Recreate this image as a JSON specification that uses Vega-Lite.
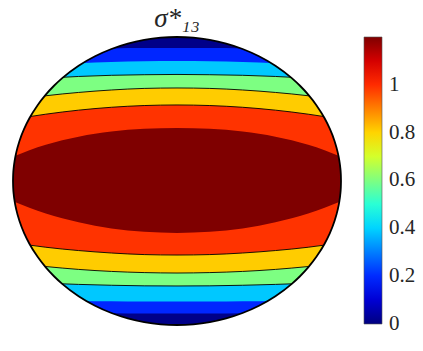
{
"$schema": "https://vega.github.io/schema/vega-lite/v6.json",
"width": 328, "height": 288,
"autosize": {"type": "none"},
"padding": {"left": 13, "top": 37, "right": 82, "bottom": 26},
"background": "white",
"title": {"text": "σ*₁₃", "font": "Liberation Serif", "fontSize": 27, "fontStyle": "italic", "fontWeight": "normal", "color": "#262626", "anchor": "middle", "baseline": "alphabetic", "offset": 9, "dy": 30},
"config": {"view": {"stroke": null}, "legend": {"labelFont": "Liberation Serif", "labelFontSize": 21}},
"datasets": {
"bands": [
{"v":0.01,"x":-1,"top":1,"bot":-1},{"v":0.01,"x":1,"top":1,"bot":-1},
{"v":0.195,"x":-1,"top":0.904,"bot":-0.911},{"v":0.195,"x":-0.9,"top":0.908,"bot":-0.913},{"v":0.195,"x":-0.8,"top":0.911,"bot":-0.915},{"v":0.195,"x":-0.6,"top":0.917,"bot":-0.917},{"v":0.195,"x":-0.4,"top":0.921,"bot":-0.919},{"v":0.195,"x":-0.2,"top":0.923,"bot":-0.921},{"v":0.195,"x":0,"top":0.924,"bot":-0.921},{"v":0.195,"x":0.2,"top":0.923,"bot":-0.921},{"v":0.195,"x":0.4,"top":0.921,"bot":-0.919},{"v":0.195,"x":0.6,"top":0.917,"bot":-0.917},{"v":0.195,"x":0.8,"top":0.911,"bot":-0.915},{"v":0.195,"x":0.9,"top":0.908,"bot":-0.913},{"v":0.195,"x":1,"top":0.904,"bot":-0.911},
{"v":0.385,"x":-1,"top":0.788,"bot":-0.827},{"v":0.385,"x":-0.9,"top":0.797,"bot":-0.829},{"v":0.385,"x":-0.8,"top":0.804,"bot":-0.831},{"v":0.385,"x":-0.6,"top":0.817,"bot":-0.833},{"v":0.385,"x":-0.4,"top":0.826,"bot":-0.835},{"v":0.385,"x":-0.2,"top":0.831,"bot":-0.837},{"v":0.385,"x":0,"top":0.833,"bot":-0.837},{"v":0.385,"x":0.2,"top":0.831,"bot":-0.837},{"v":0.385,"x":0.4,"top":0.826,"bot":-0.835},{"v":0.385,"x":0.6,"top":0.817,"bot":-0.833},{"v":0.385,"x":0.8,"top":0.804,"bot":-0.831},{"v":0.385,"x":0.9,"top":0.797,"bot":-0.829},{"v":0.385,"x":1,"top":0.788,"bot":-0.827},
{"v":0.597,"x":-1,"top":0.700,"bot":-0.699},{"v":0.597,"x":-0.9,"top":0.708,"bot":-0.705},{"v":0.597,"x":-0.8,"top":0.714,"bot":-0.710},{"v":0.597,"x":-0.6,"top":0.726,"bot":-0.718},{"v":0.597,"x":-0.4,"top":0.734,"bot":-0.724},{"v":0.597,"x":-0.2,"top":0.738,"bot":-0.728},{"v":0.597,"x":0,"top":0.740,"bot":-0.729},{"v":0.597,"x":0.2,"top":0.738,"bot":-0.728},{"v":0.597,"x":0.4,"top":0.734,"bot":-0.724},{"v":0.597,"x":0.6,"top":0.726,"bot":-0.718},{"v":0.597,"x":0.8,"top":0.714,"bot":-0.710},{"v":0.597,"x":0.9,"top":0.708,"bot":-0.705},{"v":0.597,"x":1,"top":0.700,"bot":-0.699},
{"v":0.81,"x":-1,"top":0.561,"bot":-0.569},{"v":0.81,"x":-0.9,"top":0.577,"bot":-0.582},{"v":0.81,"x":-0.8,"top":0.592,"bot":-0.594},{"v":0.81,"x":-0.6,"top":0.615,"bot":-0.614},{"v":0.81,"x":-0.4,"top":0.632,"bot":-0.628},{"v":0.81,"x":-0.2,"top":0.643,"bot":-0.636},{"v":0.81,"x":0,"top":0.646,"bot":-0.639},{"v":0.81,"x":0.2,"top":0.643,"bot":-0.636},{"v":0.81,"x":0.4,"top":0.632,"bot":-0.628},{"v":0.81,"x":0.6,"top":0.615,"bot":-0.614},{"v":0.81,"x":0.8,"top":0.592,"bot":-0.594},{"v":0.81,"x":0.9,"top":0.577,"bot":-0.582},{"v":0.81,"x":1,"top":0.561,"bot":-0.569},
{"v":0.99,"x":-1,"top":0.428,"bot":-0.429},{"v":0.99,"x":-0.9,"top":0.447,"bot":-0.445},{"v":0.99,"x":-0.8,"top":0.464,"bot":-0.460},{"v":0.99,"x":-0.6,"top":0.492,"bot":-0.483},{"v":0.99,"x":-0.4,"top":0.512,"bot":-0.500},{"v":0.99,"x":-0.2,"top":0.524,"bot":-0.511},{"v":0.99,"x":0,"top":0.528,"bot":-0.514},{"v":0.99,"x":0.2,"top":0.524,"bot":-0.511},{"v":0.99,"x":0.4,"top":0.512,"bot":-0.500},{"v":0.99,"x":0.6,"top":0.492,"bot":-0.483},{"v":0.99,"x":0.8,"top":0.464,"bot":-0.460},{"v":0.99,"x":0.9,"top":0.447,"bot":-0.445},{"v":0.99,"x":1,"top":0.428,"bot":-0.429},
{"v":1.2,"x":-1,"top":0.168,"bot":-0.141},{"v":1.2,"x":-0.9,"top":0.214,"bot":-0.186},{"v":1.2,"x":-0.8,"top":0.252,"bot":-0.225},{"v":1.2,"x":-0.6,"top":0.308,"bot":-0.286},{"v":1.2,"x":-0.4,"top":0.343,"bot":-0.329},{"v":1.2,"x":-0.2,"top":0.362,"bot":-0.353},{"v":1.2,"x":0,"top":0.368,"bot":-0.361},{"v":1.2,"x":0.2,"top":0.362,"bot":-0.353},{"v":1.2,"x":0.4,"top":0.343,"bot":-0.329},{"v":1.2,"x":0.6,"top":0.308,"bot":-0.286},{"v":1.2,"x":0.8,"top":0.252,"bot":-0.225},{"v":1.2,"x":0.9,"top":0.214,"bot":-0.186},{"v":1.2,"x":1,"top":0.168,"bot":-0.141}
],
"ellipse": [
{"x":-1.05,"top":0,"bot":0},{"x":-1,"top":0,"bot":0},{"x":-0.999,"top":0.0447,"bot":-0.0447},{"x":-0.995,"top":0.0999,"bot":-0.0999},{"x":-0.99,"top":0.1411,"bot":-0.1411},{"x":-0.98,"top":0.199,"bot":-0.199},{"x":-0.96,"top":0.28,"bot":-0.28},{"x":-0.93,"top":0.3676,"bot":-0.3676},{"x":-0.9,"top":0.4359,"bot":-0.4359},{"x":-0.85,"top":0.5268,"bot":-0.5268},{"x":-0.8,"top":0.6,"bot":-0.6},{"x":-0.75,"top":0.6614,"bot":-0.6614},{"x":-0.7,"top":0.7141,"bot":-0.7141},{"x":-0.6,"top":0.8,"bot":-0.8},{"x":-0.5,"top":0.866,"bot":-0.866},{"x":-0.4,"top":0.9165,"bot":-0.9165},{"x":-0.3,"top":0.9539,"bot":-0.9539},{"x":-0.2,"top":0.9798,"bot":-0.9798},{"x":-0.1,"top":0.995,"bot":-0.995},{"x":0,"top":1,"bot":-1},
{"x":0.1,"top":0.995,"bot":-0.995},{"x":0.2,"top":0.9798,"bot":-0.9798},{"x":0.3,"top":0.9539,"bot":-0.9539},{"x":0.4,"top":0.9165,"bot":-0.9165},{"x":0.5,"top":0.866,"bot":-0.866},{"x":0.6,"top":0.8,"bot":-0.8},{"x":0.7,"top":0.7141,"bot":-0.7141},{"x":0.75,"top":0.6614,"bot":-0.6614},{"x":0.8,"top":0.6,"bot":-0.6},{"x":0.85,"top":0.5268,"bot":-0.5268},{"x":0.9,"top":0.4359,"bot":-0.4359},{"x":0.93,"top":0.3676,"bot":-0.3676},{"x":0.96,"top":0.28,"bot":-0.28},{"x":0.98,"top":0.199,"bot":-0.199},{"x":0.99,"top":0.1411,"bot":-0.1411},{"x":0.995,"top":0.0999,"bot":-0.0999},{"x":0.999,"top":0.0447,"bot":-0.0447},{"x":1,"top":0,"bot":0},{"x":1.05,"top":0,"bot":0}
]
},
"layer": [
{"data": {"name": "bands"},
 "mark": {"type": "area", "interpolate": "monotone"},
 "encoding": {
  "x": {"field": "x", "type": "quantitative", "scale": {"domain": [-1, 1], "nice": false, "zero": false}, "axis": null},
  "y": {"field": "top", "type": "quantitative", "scale": {"domain": [-1, 1], "nice": false, "zero": false}, "axis": null, "stack": null},
  "y2": {"field": "bot"},
  "color": {"field": "v", "type": "quantitative",
   "scale": {"domain": [-0.002, 0.15, 0.45, 0.75, 1.05, 1.2], "range": ["#00007f", "#0000ff", "#00ffff", "#ffff00", "#ff0000", "#7f0000"], "interpolate": "rgb"},
   "legend": {"orient": "none", "legendX": 351, "legendY": 0, "direction": "vertical", "gradientLength": 287, "gradientThickness": 18, "title": null, "values": [0, 0.2, 0.4, 0.6, 0.8, 1], "format": "~g", "labelFont": "Liberation Serif", "labelFontSize": 21, "labelColor": "#262626", "labelOffset": 7, "labelBaseline": "middle", "labelOverlap": false, "gradientStrokeColor": "#555555", "gradientStrokeWidth": 0.6}}
 }},
{"data": {"name": "bands"},
 "transform": [{"filter": {"field": "v", "oneOf": [0.597, 0.81, 0.99]}}],
 "mark": {"type": "line", "interpolate": "monotone", "color": "black", "strokeWidth": 0.9},
 "encoding": {"x": {"field": "x", "type": "quantitative"}, "y": {"field": "top", "type": "quantitative"}, "detail": {"field": "v", "type": "nominal"}}},
{"data": {"name": "bands"},
 "transform": [{"filter": {"field": "v", "oneOf": [0.597, 0.81, 0.99]}}],
 "mark": {"type": "line", "interpolate": "monotone", "color": "black", "strokeWidth": 0.9},
 "encoding": {"x": {"field": "x", "type": "quantitative"}, "y": {"field": "bot", "type": "quantitative"}, "detail": {"field": "v", "type": "nominal"}}},
{"data": {"name": "ellipse"},
 "mark": {"type": "area", "interpolate": "monotone", "color": "white"},
 "encoding": {"x": {"field": "x", "type": "quantitative"}, "y": {"field": "top", "type": "quantitative", "stack": null}, "y2": {"datum": 1.01}}},
{"data": {"name": "ellipse"},
 "mark": {"type": "area", "interpolate": "monotone", "color": "white"},
 "encoding": {"x": {"field": "x", "type": "quantitative"}, "y": {"field": "bot", "type": "quantitative", "stack": null}, "y2": {"datum": -1.01}}},
{"data": {"name": "ellipse"},
 "transform": [{"filter": {"field": "x", "range": [-1, 1]}}],
 "mark": {"type": "line", "interpolate": "monotone", "color": "black", "strokeWidth": 1.8},
 "encoding": {"x": {"field": "x", "type": "quantitative"}, "y": {"field": "top", "type": "quantitative"}}},
{"data": {"name": "ellipse"},
 "transform": [{"filter": {"field": "x", "range": [-1, 1]}}],
 "mark": {"type": "line", "interpolate": "monotone", "color": "black", "strokeWidth": 1.8},
 "encoding": {"x": {"field": "x", "type": "quantitative"}, "y": {"field": "bot", "type": "quantitative"}}}
]
}
